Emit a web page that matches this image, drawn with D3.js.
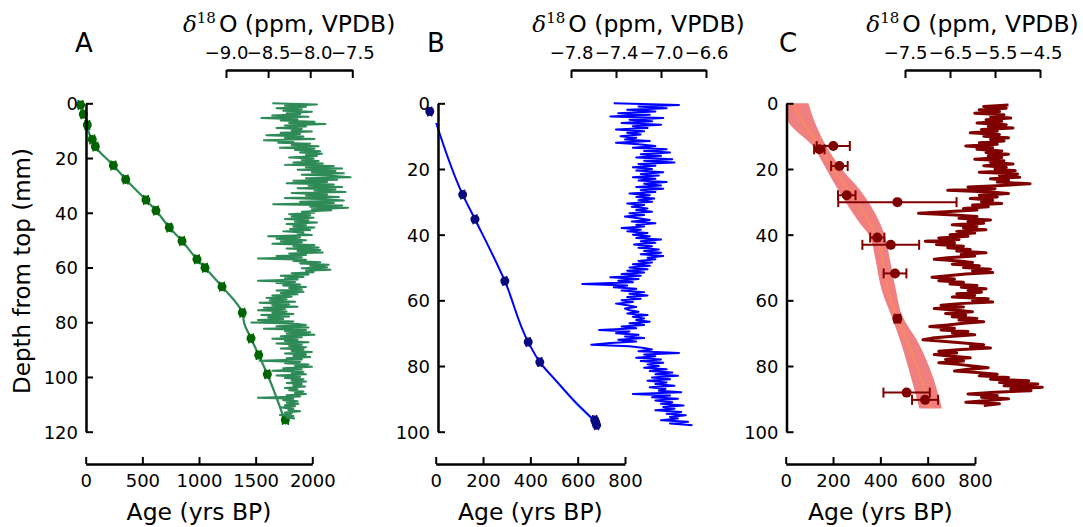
<!DOCTYPE html>
<html>
<head>
<meta charset="utf-8">
<script src="https://cdn.jsdelivr.net/npm/d3@7"></script>
<style>
  body { margin: 0; background: #fff; }
  text { font-family: "DejaVu Sans", sans-serif; }
</style>
</head>
<body>
<svg width="1083" height="527"></svg>
<script>
// ---------- tick labels ----------
const depthTicksA = [0, 20, 40, 60, 80, 100, 120];
const depthTicksBC = [0, 20, 40, 60, 80, 100];
const ageTicksA = [0, 500, 1000, 1500, 2000];
const ageTicksBC = [0, 200, 400, 600, 800];
const isoTicksA = [-9.0, -8.5, -8.0, -7.5];
const isoTicksB = [-7.8, -7.4, -7.0, -6.6];
const isoTicksC = [-7.5, -6.5, -5.5, -4.5];

// ---------- panel A : dated points + age model ----------
const datA_depth = [0.6, 4.0, 7.9, 13.2, 15.8, 22.7, 27.8, 35.3, 39.2, 45.4, 50.3, 57.0, 60.1, 67.0, 76.5, 85.9, 92.0, 99.0, 115.7];
const datA_age   = [-45, -21, 14, 58, 85, 244, 353, 532, 620, 738, 850, 982, 1053, 1203, 1382, 1459, 1527, 1603, 1762];
const datA_err   = [20, 20, 20, 20, 20, 20, 20, 20, 20, 20, 20, 20, 20, 20, 20, 20, 20, 20, 25];
const modA_depth = [3, 8, 16, 22.7, 27.8, 35.3, 39.2, 45.4, 50.3, 57.0, 60.1, 67.0, 76.5, 80.5, 85.9, 92.0, 99.0, 115.7];
const modA_age   = [0, 12, 88, 244, 355, 530, 620, 738, 850, 982, 1053, 1203, 1382, 1400, 1459, 1527, 1603, 1755];

// panel A d18O (depth mm, permil)
const isoA = [[0.0,-8.45],[0.4,-7.92],[0.9,-8.30],[1.3,-8.05],[1.8,-8.40],[2.2,-8.10],[2.7,-8.32],[3.1,-7.98],[3.6,-8.28],[4.0,-8.12],[4.5,-8.45],[4.9,-8.02],
[5.4,-8.58],[5.8,-8.15],[6.3,-8.35],[6.7,-7.95],[7.2,-8.25],[7.6,-7.82],[8.1,-8.30],[8.5,-8.05],[9.0,-8.40],[9.4,-8.10],[9.9,-8.22],[10.3,-7.98],[10.8,-8.35],[11.2,-8.12],[11.7,-8.52],[12.1,-8.08],[12.6,-8.30],[13.0,-7.95],[13.5,-8.55],[13.9,-8.20],[14.4,-8.38],[14.8,-8.00],
[15.3,-8.22],[15.7,-7.90],[16.2,-8.36],[16.6,-7.95],[17.1,-8.18],[17.5,-7.88],[18.0,-8.12],[18.4,-7.86],[18.9,-8.05],[19.3,-7.92],[19.8,-8.25],[20.2,-7.96],[20.7,-8.10],[21.1,-7.90],[21.6,-8.20],
[22.0,-7.85],[22.5,-8.30],[22.9,-7.72],[23.4,-8.05],[23.8,-7.62],[24.3,-8.15],[24.7,-7.70],[25.2,-7.98],[25.6,-7.60],[26.1,-8.10],[26.5,-7.75],[27.0,-7.52],[27.4,-8.05],[27.9,-7.68],[28.3,-8.20],[28.8,-7.80],[29.2,-8.28],[29.7,-7.72],[30.1,-8.02],[30.6,-7.62],[31.0,-8.15],[31.5,-7.70],[31.9,-7.95],[32.4,-7.58],[32.8,-8.22],[33.3,-7.80],[33.7,-8.05],[34.2,-7.66],[34.6,-8.30],[35.1,-7.82],[35.5,-7.60],[36.0,-8.12],[36.4,-7.72],[36.9,-8.44],[37.3,-7.62],[37.8,-8.00],[38.2,-7.55],[38.7,-7.98],[39.1,-7.75],[39.6,-8.10],
[40.0,-7.95],[40.5,-8.25],[40.9,-8.00],[41.4,-8.22],[41.8,-7.96],[42.3,-8.30],[42.7,-8.02],[43.2,-8.18],[43.6,-7.92],[44.1,-8.28],[44.5,-8.05],[45.0,-8.20],[45.4,-7.95],[45.9,-8.24],[46.3,-8.00],[46.8,-8.32],[47.2,-8.08],[47.7,-8.15],[48.1,-7.98],[48.6,-8.50],[49.0,-8.12],[49.5,-8.40],
[50.0,-8.05],[50.4,-8.35],[50.9,-8.10],[51.3,-8.45],[51.8,-7.95],[52.2,-8.20],[52.7,-7.90],[53.1,-8.28],[53.6,-7.88],[54.0,-8.15],[54.5,-7.85],[54.9,-8.25],[55.4,-8.05],[55.8,-8.40],[56.3,-8.10],[56.7,-8.62],[57.2,-8.05],[57.6,-8.20],[58.1,-7.88],[58.5,-8.12],[59.0,-7.78],[59.4,-8.00],[59.9,-7.80],
[60.3,-8.10],[60.8,-7.76],[61.2,-8.05],[61.7,-7.96],[62.1,-8.22],[62.6,-8.02],[63.0,-8.35],[63.5,-8.08],[63.9,-8.30],[64.4,-8.15],[64.8,-8.62],[65.3,-8.18],[65.7,-8.40],[66.2,-8.12],[66.6,-8.32],[67.1,-8.05],[67.5,-8.25],[68.0,-8.10],[68.4,-8.40],[68.9,-8.08],[69.3,-8.35],
[69.8,-8.15],[70.2,-8.45],[70.7,-8.22],[71.1,-8.52],[71.6,-8.28],[72.0,-8.48],[72.5,-8.18],[72.9,-8.60],[73.4,-8.25],[73.8,-8.45],[74.3,-8.15],[74.7,-8.55],[75.2,-8.30],[75.6,-8.62],[76.1,-8.28],[76.5,-8.45],[77.0,-8.20],[77.4,-8.58],[77.9,-8.25],[78.3,-8.50],[78.8,-8.32],[79.2,-8.62],
[79.7,-8.20],[80.1,-8.70],[80.6,-8.15],[81.0,-8.05],[81.5,-8.40],[81.9,-8.02],[82.4,-8.55],[82.8,-8.05],[83.3,-8.30],[83.7,-8.00],[84.2,-8.28],[84.6,-7.95],[85.1,-8.35],[85.5,-8.10],[86.0,-8.45],[86.4,-8.15],[86.9,-8.30],[87.3,-8.02],[87.8,-8.40],[88.2,-8.10],[88.7,-8.25],[89.1,-8.05],
[89.6,-8.35],[90.0,-8.08],[90.5,-8.22],[90.9,-7.98],[91.4,-8.30],[91.8,-8.05],[92.3,-8.20],[92.7,-8.00],[93.2,-8.28],[93.6,-8.10],[94.1,-8.60],[94.5,-8.12],[95.0,-8.30],[95.4,-8.02],[95.9,-8.18],[96.3,-7.98],[96.8,-8.32],[97.2,-8.10],[97.7,-8.45],[98.1,-8.08],[98.6,-8.22],[99.0,-8.05],
[99.5,-8.40],[99.9,-8.12],[100.4,-8.30],[100.8,-8.08],[101.3,-8.22],[101.7,-8.05],[102.2,-8.28],[102.6,-8.10],[103.1,-8.20],[103.5,-8.06],[104.0,-8.30],[104.4,-8.15],[104.9,-8.25],[105.3,-8.08],[105.8,-8.18],[106.2,-8.05],[106.7,-8.28],[107.1,-8.12],[107.6,-8.62],[108.0,-8.20],[108.5,-8.32],[108.9,-8.15],
[109.4,-8.28],[109.8,-8.14],[110.3,-8.30],[110.7,-8.18],[111.2,-8.35],[111.6,-8.20],[112.1,-8.26],[112.5,-8.12],[113.0,-8.30],[113.4,-8.22],[113.9,-8.36],[114.3,-8.20],[114.8,-8.28],[115.2,-8.18]];

// ---------- panel B ----------
const datB_depth = [2.5, 27.8, 35.3, 54.1, 72.7, 78.8, 96.4, 97.1, 98.0];
const datB_age   = [-25, 114, 166, 292, 391, 440, 672, 676, 680];
const datB_err   = [8, 8, 8, 8, 8, 8, 8, 8, 8];
const modB_depth = [6, 27.8, 35.3, 54.1, 72.7, 78.8, 85, 91, 97];
const modB_age   = [2, 114, 166, 292, 391, 440, 515, 590, 676];
const bandB_lo   = [2, 114, 166, 292, 391, 437, 509, 582, 667];
const bandB_hi   = [2, 114, 166, 292, 391, 443, 521, 598, 685];

const isoB = [[0.0,-7.42],[0.5,-6.84],[1.0,-7.20],[1.5,-6.95],[2.0,-7.30],[2.5,-7.05],[3.0,-7.38],[3.5,-7.10],[4.0,-7.45],[4.5,-6.98],[5.0,-7.28],[5.5,-7.08],[6.0,-7.35],[6.5,-7.00],[7.0,-7.25],[7.5,-7.12],[8.0,-7.40],[8.5,-7.15],[9.0,-7.30],[9.5,-7.18],
[10.0,-7.36],[10.5,-7.22],[11.0,-7.32],[11.5,-7.10],[12.0,-7.40],[12.5,-7.20],[13.0,-7.05],[13.5,-7.25],[14.0,-6.95],[14.5,-7.15],[15.0,-6.92],[15.5,-7.18],[16.0,-7.00],[16.5,-7.22],[17.0,-6.90],[17.5,-7.15],[18.0,-6.88],[18.5,-7.20],[19.0,-7.05],[19.5,-7.25],
[20.0,-7.08],[20.5,-7.22],[21.0,-6.98],[21.5,-7.18],[22.0,-7.02],[22.5,-7.25],[23.0,-7.05],[23.5,-7.20],[24.0,-6.95],[24.5,-7.15],[25.0,-7.00],[25.5,-7.22],[26.0,-6.98],[26.5,-7.18],[27.0,-7.05],[27.5,-7.28],[28.0,-7.10],[28.5,-7.22],[29.0,-7.06],[29.5,-7.20],
[30.0,-7.08],[30.5,-7.30],[31.0,-7.15],[31.5,-7.26],[32.0,-7.12],[32.5,-7.22],[33.0,-7.08],[33.5,-7.28],[34.0,-7.15],[34.5,-7.32],[35.0,-7.20],[35.5,-7.10],[36.0,-7.26],[36.5,-7.05],[37.0,-7.22],[37.5,-7.15],[38.0,-7.35],[38.5,-7.18],[39.0,-7.30],[39.5,-7.12],
[40.0,-7.25],[40.5,-7.10],[41.0,-7.22],[41.5,-7.00],[42.0,-7.18],[42.5,-7.05],[43.0,-7.24],[43.5,-7.08],[44.0,-7.20],[44.5,-7.02],[45.0,-7.15],[45.5,-7.00],[46.0,-7.18],[46.5,-6.98],[47.0,-7.12],[47.5,-7.05],[48.0,-7.20],[48.5,-7.08],[49.0,-7.25],[49.5,-7.10],
[50.0,-7.28],[50.5,-7.12],[51.0,-7.30],[51.5,-7.15],[52.0,-7.35],[52.5,-7.18],[53.0,-7.45],[53.5,-7.20],[54.0,-7.38],[54.5,-7.25],[55.0,-7.70],[55.5,-7.30],[56.0,-7.42],[56.5,-7.22],[57.0,-7.35],[57.5,-7.15],[58.0,-7.28],[58.5,-7.12],[59.0,-7.30],[59.5,-7.18],
[60.0,-7.35],[60.5,-7.25],[61.0,-7.40],[61.5,-7.30],[62.0,-7.22],[62.5,-7.32],[63.0,-7.28],[63.5,-7.20],[64.0,-7.30],[64.5,-7.12],[65.0,-7.25],[65.5,-7.15],[66.0,-7.22],[66.5,-7.10],[67.0,-7.28],[67.5,-7.15],[68.0,-7.35],[68.5,-7.22],[69.0,-7.55],[69.5,-7.28],
[70.0,-7.40],[70.5,-7.20],[71.0,-7.32],[71.5,-7.15],[72.0,-7.38],[72.5,-7.22],[73.0,-7.45],[73.5,-7.62],[74.0,-7.28],[74.5,-7.15],[75.0,-7.08],[75.5,-7.20],[76.0,-6.84],[76.5,-7.15],[77.0,-7.05],[77.5,-7.22],[78.0,-7.00],[78.5,-7.18],[79.0,-6.98],[79.5,-7.12],
[80.0,-7.02],[80.5,-7.15],[81.0,-6.95],[81.5,-7.10],[82.0,-6.90],[82.5,-7.05],[83.0,-6.85],[83.5,-7.08],[84.0,-6.92],[84.5,-7.12],[85.0,-6.95],[85.5,-7.05],[86.0,-6.88],[86.5,-7.10],[87.0,-6.96],[87.5,-7.02],[88.0,-6.82],[88.5,-7.25],[89.0,-6.92],[89.5,-7.08],
[90.0,-6.85],[90.5,-7.05],[91.0,-6.90],[91.5,-7.00],[92.0,-6.80],[92.5,-6.98],[93.0,-6.88],[93.5,-7.05],[94.0,-6.82],[94.5,-6.95],[95.0,-6.78],[95.5,-6.92],[96.0,-6.85],[96.5,-7.00],[97.0,-6.76],[97.5,-6.92],[98.0,-6.72]];

// ---------- panel C ----------
const datC_depth = [13.0, 14.0, 19.1, 28.0, 30.1, 40.9, 43.1, 51.8, 65.6, 88.1, 90.3];
const datC_age   = [201, 142, 227, 258, 472, 387, 444, 462, 472, 511, 589];
const datC_err   = [70, 22, 35, 37, 250, 30, 120, 48, 12, 98, 55];
const bandC_depth = [0, 4.6, 13.2, 19.3, 26.4, 36.6, 40.6, 46.7, 56.9, 65.0, 72.1, 82.3, 92.9];
const bandC_lo    = [4, 7, 117, 166, 222, 314, 356, 377, 406, 448, 483, 525, 565];
const bandC_med   = [32, 62, 145, 194, 265, 356, 384, 406, 434, 469, 511, 565, 610];
const bandC_hi    = [96, 117, 173, 229, 314, 399, 420, 438, 466, 494, 554, 617, 660];

const isoC = [[0.5,-5.20],[1.0,-5.75],[1.5,-5.25],[2.0,-5.85],[2.5,-5.40],[3.0,-5.95],[3.5,-5.30],[4.0,-5.60],[4.5,-5.15],[5.0,-5.70],
[5.5,-5.35],[6.0,-5.90],[6.5,-5.25],[7.0,-5.65],[7.5,-5.10],[8.0,-5.80],[8.5,-5.45],[9.0,-6.05],[9.5,-5.40],[10.0,-5.75],[10.5,-5.20],[11.0,-5.60],[11.5,-5.30],[12.0,-5.85],[12.5,-5.45],[13.0,-6.15],[13.5,-5.55],[14.0,-5.90],[14.5,-5.35],[15.0,-5.70],
[15.5,-5.20],[16.0,-5.65],[16.5,-5.35],[17.0,-5.95],[17.5,-5.30],[18.0,-5.60],[18.5,-5.10],[19.0,-5.75],[19.5,-5.25],[20.0,-5.50],[20.5,-5.05],[21.0,-5.85],[21.5,-5.00],[22.0,-5.40],[22.5,-4.95],[23.0,-5.60],[23.5,-5.20],[24.0,-5.45],[24.5,-4.72],[25.0,-5.35],
[25.5,-6.10],[26.0,-5.50],[26.5,-6.55],[27.0,-5.60],[27.5,-5.20],[28.0,-5.85],[28.5,-5.45],[29.0,-6.05],[29.5,-5.55],[30.0,-5.80],[30.5,-5.35],[31.0,-6.00],[31.5,-5.65],[32.0,-6.20],[32.5,-5.90],[33.0,-6.60],[33.5,-7.20],[34.0,-6.40],[34.5,-5.90],[35.0,-6.30],
[35.5,-5.60],[36.0,-6.10],[36.5,-5.75],[37.0,-6.45],[37.5,-5.90],[38.0,-6.20],[38.5,-5.70],[39.0,-6.35],[39.5,-5.95],[40.0,-6.50],[40.5,-6.10],[41.0,-6.75],[41.5,-6.30],[42.0,-7.05],[42.5,-6.40],[43.0,-6.80],[43.5,-6.20],[44.0,-6.55],[44.5,-6.05],[45.0,-6.35],
[45.5,-5.70],[46.0,-6.25],[46.5,-5.95],[47.0,-6.55],[47.5,-6.85],[48.0,-6.30],[48.5,-6.00],[49.0,-6.45],[49.5,-5.85],[50.0,-6.20],
[50.5,-5.60],[51.0,-6.00],[51.5,-5.55],[52.0,-6.15],[52.5,-6.55],[53.0,-6.90],[53.5,-6.40],[54.0,-6.75],[54.5,-6.20],[55.0,-6.50],[55.5,-5.90],[56.0,-6.25],[56.5,-5.70],[57.0,-6.10],[57.5,-5.80],[58.0,-6.35],[58.5,-5.95],[59.0,-6.45],[59.5,-5.65],[60.0,-6.00],
[60.5,-5.55],[61.0,-6.30],[61.5,-6.70],[62.0,-6.20],[62.5,-6.85],[63.0,-6.35],[63.5,-6.00],[64.0,-6.60],[64.5,-6.15],[65.0,-6.45],[65.5,-5.90],[66.0,-6.30],[66.5,-5.75],[67.0,-6.20],[67.5,-6.55],[68.0,-6.95],[68.5,-6.40],[69.0,-6.70],[69.5,-6.10],[70.0,-6.45],
[70.5,-5.95],[71.0,-6.50],[71.5,-6.90],[72.0,-7.10],[72.5,-6.60],[73.0,-6.20],[73.5,-5.75],[74.0,-6.05],[74.5,-5.60],[75.0,-6.25],[75.5,-6.75],[76.0,-6.35],[76.5,-6.85],[77.0,-6.45],[77.5,-6.05],[78.0,-6.60],[78.5,-6.20],[79.0,-6.75],[79.5,-6.30],[80.0,-6.00],
[80.5,-5.65],[81.0,-6.10],[81.5,-6.40],[82.0,-5.90],[82.5,-5.45],[83.0,-5.85],[83.5,-5.20],[84.0,-5.60],[84.5,-4.75],[85.0,-5.40],[85.5,-4.55],[86.0,-5.30],[86.5,-4.45],[87.0,-5.15],[87.5,-4.70],[88.0,-5.50],[88.5,-6.10],[89.0,-5.45],[89.5,-5.80],[90.0,-5.20],[90.5,-5.65],[91.0,-6.15],[91.5,-5.40],[92.0,-5.75]];

// ---------- drawing ----------
const svg = d3.select("svg");
const yTop = 103.3, yBot = 431.7;
const fmtIso = d3.format(".1f");

function styleAxis(g, size) {
  g.select(".domain").attr("stroke", "#000").attr("stroke-width", 2.5);
  g.selectAll(".tick line").attr("stroke", "#000").attr("stroke-width", 2);
  g.selectAll(".tick text").attr("fill", "#000")
    .style("font-family", '"DejaVu Sans", sans-serif').style("font-size", size + "px");
}

function drawPanel(p) {
  const x = d3.scaleLinear().domain([p.ageTicks[0], p.ageTicks[p.ageTicks.length - 1]]).range(p.ageRange);
  const y = d3.scaleLinear().domain([p.depthTicks[0], p.depthTicks[p.depthTicks.length - 1]]).range([yTop, yBot]);
  const xi = d3.scaleLinear().domain([p.isoTicks[0], p.isoTicks[p.isoTicks.length - 1]]).range(p.isoRange);
  const g = svg.append("g");

  // uncertainty band
  if (p.band) {
    const b = p.band;
    const area = d3.area().curve(d3.curveMonotoneY)
      .y((d, i) => y(b.depth[i])).x0((d, i) => x(b.lo[i])).x1((d, i) => x(b.hi[i]));
    g.append("path").datum(b.depth).attr("d", area)
      .attr("fill", b.fill).attr("stroke", "none");
  }
  // age model line
  const ml = d3.line().curve(d3.curveMonotoneY).x((d, i) => x(p.model.age[i])).y(d => y(d));
  g.append("path").datum(p.model.depth).attr("d", ml)
    .attr("fill", "none").attr("stroke", p.model.color).attr("stroke-width", p.model.width);

  // dated points with horizontal error bars
  const pts = p.dat.depth.map((d, i) => ({ depth: d, age: p.dat.age[i], err: p.dat.err[i] }));
  const eb = g.append("g").attr("stroke", p.dat.color).attr("stroke-width", p.dat.ebw);
  pts.forEach(d => {
    const yy = y(d.depth), x0 = x(d.age - d.err), x1 = x(d.age + d.err);
    eb.append("line").attr("x1", x0).attr("x2", x1).attr("y1", yy).attr("y2", yy);
    eb.append("line").attr("x1", x0).attr("x2", x0).attr("y1", yy - p.dat.cap).attr("y2", yy + p.dat.cap);
    eb.append("line").attr("x1", x1).attr("x2", x1).attr("y1", yy - p.dat.cap).attr("y2", yy + p.dat.cap);
  });
  g.selectAll("circle.pt").data(pts).enter().append("circle")
    .attr("cx", d => x(d.age)).attr("cy", d => y(d.depth)).attr("r", p.dat.r)
    .attr("fill", p.dat.color);

  // isotope series
  const il = d3.line().x(d => xi(d[1])).y(d => y(d[0]));
  g.append("path").datum(p.iso).attr("d", il)
    .attr("fill", "none").attr("stroke", p.isoColor).attr("stroke-width", p.isoWidth)
    .attr("stroke-linejoin", "round");

  // left axis
  const gl = g.append("g").attr("transform", `translate(${p.spineX},0)`)
    .call(d3.axisLeft(y).tickValues(p.depthTicks).tickSizeInner(-7).tickSizeOuter(0).tickPadding(8).tickFormat(d3.format("d")));
  styleAxis(gl, 18);
  gl.selectAll(".tick text").attr("dy", "0.36em");

  // bottom axis
  const gb = g.append("g").attr("transform", "translate(0,464)")
    .call(d3.axisBottom(x).tickValues(p.ageTicks).tickSizeInner(-7).tickSizeOuter(0).tickPadding(10).tickFormat(d3.format("d")));
  styleAxis(gb, 18);

  // top isotope axis
  const gt = g.append("g").attr("transform", "translate(0,70)")
    .call(d3.axisTop(xi).tickValues(p.isoTicks).tickSizeInner(-8).tickSizeOuter(0).tickPadding(11.5).tickFormat(fmtIso));
  styleAxis(gt, 18);

  // axis titles
  const cx = (p.isoRange[0] + p.isoRange[1]) / 2;
  const t = g.append("text").attr("x", cx).attr("y", 31.7).attr("text-anchor", "middle").attr("fill", "#000");
  t.append("tspan").text("δ").style("font-family", '"DejaVu Serif", serif').style("font-style", "italic").style("font-size", "23px");
  t.append("tspan").text("18").attr("dy", -9).style("font-family", '"DejaVu Serif", serif').style("font-size", "15px");
  t.append("tspan").text("O (ppm, VPDB)").attr("dy", 9).attr("dx", 3).style("font-size", "23.5px");

  g.append("text").attr("x", (p.ageRange[0] + p.ageRange[1]) / 2).attr("y", 520)
    .attr("text-anchor", "middle").style("font-size", "23.5px").text("Age (yrs BP)");

  g.append("text").attr("x", p.letterX).attr("y", 51.7).style("font-size", "26px").text(p.letter);
}

drawPanel({
  letter: "A", letterX: 75, spineX: 86,
  ageTicks: ageTicksA, ageRange: [85.7, 312.3],
  depthTicks: depthTicksA,
  isoTicks: isoTicksA, isoRange: [226, 352.3],
  model: { depth: modA_depth, age: modA_age, color: "#2e8b57", width: 2.2 },
  dat: { depth: datA_depth, age: datA_age, err: datA_err, color: "#006400", r: 4.5, cap: 5, ebw: 1.5 },
  iso: isoA, isoColor: "#2e8b57", isoWidth: 2
});

drawPanel({
  letter: "B", letterX: 427, spineX: 438,
  ageTicks: ageTicksBC, ageRange: [435.7, 625],
  depthTicks: depthTicksBC,
  isoTicks: isoTicksB, isoRange: [571, 706],
  band: { depth: modB_depth, lo: bandB_lo, hi: bandB_hi, fill: "#9fd0ee" },
  model: { depth: modB_depth, age: modB_age, color: "#0000ff", width: 2 },
  dat: { depth: datB_depth, age: datB_age, err: datB_err, color: "#0a0a80", r: 4.5, cap: 5, ebw: 1.5 },
  iso: isoB, isoColor: "#0000ff", isoWidth: 2
});

drawPanel({
  letter: "C", letterX: 779, spineX: 786.5,
  ageTicks: ageTicksBC, ageRange: [785.7, 975],
  depthTicks: depthTicksBC,
  isoTicks: isoTicksC, isoRange: [905, 1040],
  band: { depth: bandC_depth, lo: bandC_lo, hi: bandC_hi, fill: "#f08080" },
  model: { depth: bandC_depth, age: bandC_med, color: "#ff8c50", width: 1.5 },
  dat: { depth: datC_depth, age: datC_age, err: datC_err, color: "#800000", r: 5, cap: 5, ebw: 2 },
  iso: isoC, isoColor: "#800000", isoWidth: 3
});

// shared y label
svg.append("text").attr("transform", "translate(30,271) rotate(-90)")
  .attr("text-anchor", "middle").style("font-size", "23px").text("Depth from top (mm)");
</script>
</body>
</html>
